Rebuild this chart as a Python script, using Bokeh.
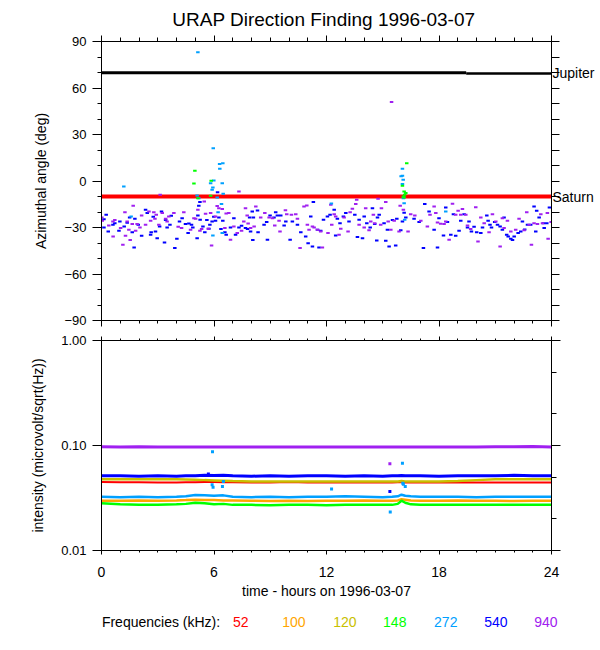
from bokeh.plotting import figure
from bokeh.layouts import column
from bokeh.models import (LinearAxis, LogAxis, SingleIntervalTicker, FixedTicker,
                          Range1d, CustomJSTickFormatter, Grid)
from bokeh.core.properties import value
from bokeh.embed import file_html
from bokeh.resources import INLINE

# ---------------- data ----------------
TITLE = "URAP Direction Finding  1996-03-07"
LEGEND_TITLE = "Frequencies (kHz):"
FREQ_LABELS = ["52", "100", "120", "148", "272", "540", "940"]
FREQ_COLORS = ["#FF0000", "#FFA500", "#C8C000", "#00FF00", "#00A0FF", "#0000FF", "#A020F0"]

# planet directions (deg)
jupiter_hours_a = [0.0, 19.45]
jupiter_angle_a = [69.9, 69.9]
jupiter_hours_b = [19.45, 24.0]
jupiter_angle_b = [69.4, 69.4]
saturn_hours = [0.0, 24.0]
saturn_angle = [-10.0, -10.0]
planet_angles = [69.9, -10.0]
planet_names = ["Jupiter", "Saturn"]

# azimuthal angle points, 540 kHz
hours_540 = [0.13, 0.25, 0.13, 0.36, 0.61, 0.71, 0.93, 0.98, 1.21, 1.37, 1.50, 1.64, 1.78, 1.74, 1.96,
             2.14, 2.35, 2.44, 2.62, 2.65, 2.76, 2.88, 2.97, 3.10, 3.20, 3.36, 3.42, 3.50, 3.65, 3.72,
             3.91, 4.02, 4.16, 4.30, 4.48, 4.62, 4.66, 4.80, 4.87, 5.10, 5.14, 5.19, 5.25, 5.26, 5.41,
             5.51, 5.62, 5.73, 5.78, 5.90, 5.99, 6.08, 6.19, 6.26, 6.37, 6.47, 6.58, 6.65, 6.88, 7.06,
             7.15, 7.33, 7.47, 7.68, 7.79, 7.90, 8.04, 8.07, 7.95,
             8.32, 8.10, 8.35, 8.67, 8.81, 8.85, 8.99, 9.20, 9.29, 9.38, 9.56, 9.74, 9.83, 10.06, 10.18,
             10.45, 10.63, 10.89, 11.02, 11.16, 11.25, 11.30, 11.52, 11.60, 11.69, 11.84, 12.05, 12.19,
             12.41, 12.49, 12.58, 12.72, 12.90, 13.03, 13.20, 13.51, 13.65, 13.74, 13.92, 14.01, 14.15,
             14.33, 14.45, 14.57, 14.68, 14.72, 14.81, 15.07, 15.16, 15.25, 15.34, 15.52, 15.69, 15.75,
             15.96, 16.05, 16.14,
             16.23, 16.67, 16.94, 17.24, 17.17, 17.47, 17.74, 17.92, 18.00, 18.24, 18.36, 18.45, 18.63,
             18.77, 18.89, 19.07, 19.16, 19.34, 19.52, 19.60, 19.73, 19.87, 20.01, 20.23, 20.32, 20.55,
             20.62, 20.72, 20.80, 20.97, 21.12, 21.26, 21.38, 21.47, 21.61, 21.69, 21.83, 21.92, 22.01,
             22.22, 22.36, 22.45, 22.57, 22.72, 22.89, 23.07, 23.16, 23.21, 23.34, 23.57, 23.61, 23.75,
             23.89]
angle_540 = [-24.6, -21.8, -30.0, -32.6, -28.3, -27.2, -32.1, -26.1, -29.3, -27.0, -23.5, -33.0, -24.4, -42.9,
             -28.3, -35.3, -18.6, -20.7, -34.7, -33.0, -23.1, -32.6, -36.9, -29.3, -19.7, -39.6, -25.2, -30.0,
             -28.3, -22.4, -43.3, -37.3, -26.1, -24.0, -27.8, -33.6, -27.4, -28.3, -30.0, -36.9, -22.2, -16.0,
             -13.6, -25.0, -29.3, -33.0, -25.2, -30.8, -28.3, -26.1, -23.1, -25.7, -7.2, -23.5, -31.0, -25.7,
             -33.0, -34.7, -30.0, -24.0, -34.7, -30.0, -28.9, -30.4, -31.0, -23.5, -19.7, -38.1, -32.6,
             -19.0, -23.5, -33.0, -28.3, -26.5, -37.9, -22.2, -23.5, -20.1, -22.2, -22.2, -28.7, -26.1, -37.9,
             -26.1, -28.3, -33.0, -35.8, -40.1, -22.9, -42.2, -13.6, -31.5, -42.9, -32.1, -25.0, -22.9, -21.8,
             -18.6, -35.1, -24.4, -27.2, -22.9, -20.7, -26.1, -21.8, -36.2, -25.0, -36.9, -22.9, -27.2, -30.0,
             -17.5, -27.8, -38.4, -23.5, -21.8, -27.2, -38.6, -31.5, -42.2, -25.2, -41.6, -24.4, -31.7, -26.1,
             -20.5,
             -23.5, -24.4, -26.5, -14.9, -43.3, -19.7, -31.5, -42.9, -24.0, -35.1, -17.1, -26.5, -34.7, -21.4,
             -35.3, -32.1, -25.7, -21.4, -30.0, -26.1, -32.6, -29.5, -33.0, -33.6, -30.0, -22.2, -25.7, -28.3,
             -30.0, -26.5, -28.3, -29.3, -31.5, -23.5, -34.7, -35.8, -37.3, -38.1, -35.8, -33.6, -32.6, -26.1,
             -31.3, -28.3, -28.3, -16.4, -32.6, -19.2, -23.5, -27.2, -30.4, -27.2, -17.1]

# azimuthal angle points, 940 kHz
hours_940 = [0.04, 0.02, 0.39, 0.61, 0.62, 0.71, 1.02, 1.14, 1.25, 1.28, 1.37, 1.46, 1.53, 1.64, 1.69, 1.82,
             1.90, 2.05, 2.14, 2.35, 2.53, 2.62, 2.79, 2.85, 2.92, 3.06, 3.13, 3.24, 3.42, 3.50, 3.59, 3.86,
             4.09, 4.27, 4.39, 4.75, 4.93, 5.02, 5.14, 5.25, 5.34, 5.48, 5.55, 5.69, 5.82, 5.87, 6.08, 6.17,
             6.26, 6.44, 6.58, 6.65, 6.79, 6.88, 7.06, 7.24, 7.33, 7.47, 7.59, 7.68, 7.77, 7.82, 7.95,
             8.23, 8.14, 8.49, 8.71, 8.94, 9.12, 9.24, 9.47, 9.52, 9.81, 9.88, 10.13, 10.36, 10.45, 10.59,
             10.80, 10.95, 10.98, 11.07, 11.25, 11.34, 11.52, 11.69, 11.78, 12.08, 12.23, 12.28, 12.41,
             12.49, 12.67, 12.76, 12.94, 13.15, 13.26, 13.38, 13.56, 13.61, 13.74, 14.01, 14.09, 14.27,
             14.36, 14.50, 14.57, 14.75, 14.89, 14.93, 15.16, 15.29, 15.43, 15.61, 15.87, 15.93, 15.47,
             16.10, 16.35, 16.49, 16.71, 17.03, 17.38, 17.52, 17.74, 17.83, 17.92, 18.09, 18.27, 18.36,
             18.54, 18.72, 18.89, 19.02, 19.16, 19.25, 19.43, 19.52, 19.69, 19.96, 20.08, 20.23, 20.41,
             20.67, 20.85, 21.03, 21.26, 21.38, 21.47, 21.65, 21.83, 22.09, 22.27, 22.54, 22.68, 22.81,
             22.93, 23.07, 23.25, 23.43, 23.52, 23.78, 23.82, 23.98]
angle_940 = [-25.7, -23.5, -28.7, -26.1, -35.8, -25.2, -30.4, -41.2, -20.1, -35.3, -26.1, -31.5, -38.1, -27.8,
             -16.0, -32.1, -27.8, -30.0, -22.2, -28.3, -19.7, -25.7, -20.1, -24.4, -21.8, -28.3, -8.9, -20.7,
             -24.4, -26.1, -22.9, -20.7, -29.5, -30.4, -20.1, -31.5, -24.0, -24.4, -18.6, -32.1, -31.0, -13.2,
             -21.2, -30.8, -20.7, -41.6, -22.9, -16.2, -17.5, -18.1, -30.4, -21.0, -20.7, -37.9, -29.3, -33.6,
             -6.8, -32.1, -26.1, -17.5, -22.2, -27.4, -30.4,
             -16.4, -29.3, -23.5, -20.7, -23.5, -24.0, -28.7, -25.7, -32.6, -18.8, -21.4, -21.8, -21.4, -24.4,
             -43.3, -16.4, -15.8, -28.3, -31.5, -29.3, -30.0, -31.5, -32.6, -42.9, -33.6, -15.4, -28.3, -21.4,
             -22.9, -34.7, -30.8, -23.5, -32.6, -20.1, -17.9, -14.9, -12.1, -28.3, -30.0, -17.5, -31.7, -26.1,
             -21.8, -27.2, -11.5, -28.3, -17.5, -13.6, -26.1, -31.5, -25.7, -32.6, -16.0, 51.0,
             -18.6, -32.6, -21.4, -22.2, -25.7, -29.3, -21.8, -16.4, -20.7, -26.7, -27.6, -27.8, -26.1, -37.9,
             -14.7, -21.8, -19.2, -21.8, -18.1, -21.8, -28.7, -31.0, -16.9, -39.0, -23.5, -27.2, -33.0, -21.4,
             -26.1, -42.2, -24.0, -30.4, -25.7, -32.6, -31.5, -24.4, -31.7, -20.1, -28.3, -41.2, -27.2, -27.8,
             -21.4, -27.2, -20.7, -37.3, -26.5]

# azimuthal angle points, 272 kHz
hours_272 = [1.19, 1.58, 5.14, 5.96, 6.30, 6.47, 6.31, 5.99, 5.82, 5.94, 6.44, 5.90, 6.49, 6.17, 6.40, 6.22,
             5.94, 5.10, 5.19, 6.44, 12.26, 15.98, 16.05, 16.05, 16.09, 16.05, 16.10, 16.14, 16.17, 18.36]
angle_272 = [-3.5, -22.9, 83.0, 21.2, 10.9, 11.5, 7.9, 0.3, -1.4, -4.2, -1.4, -5.7, -8.3, -10.6, -14.9, -20.1,
             -35.1, -9.3, -11.1, -33.6, -14.5, 3.0, 7.9, 3.4, 0.8, -2.0, -11.1, -14.3, -25.0, -19.7]

# azimuthal angle points, 148 kHz
hours_148 = [4.98, 4.93, 5.85, 5.82, 5.14, 16.05, 16.14, 16.17, 16.14, 16.28, 16.23, 16.10]
angle_148 = [6.6, -1.6, 0.1, -9.5, -11.1, -3.1, -6.8, -8.9, -10.6, 11.5, -7.8, -10.0]

# intensity time series (microvolt/sqrt(Hz))
time_hours = [0, 1, 2, 3, 4, 4.5, 5, 5.5, 6, 6.5, 7, 8, 9, 10, 11, 12, 13, 14, 15, 15.5, 15.8, 16.0,
              16.2, 16.5, 17, 18, 19, 20, 21, 22, 23, 24]
intensity_52 = [0.0448, 0.0446, 0.0446, 0.0445, 0.0445, 0.0446, 0.0446, 0.0448, 0.0450, 0.0447, 0.0446,
                0.0445, 0.0445, 0.0448, 0.0445, 0.0446, 0.0445, 0.0447, 0.0445, 0.0445, 0.0446, 0.0446,
                0.0445, 0.0445, 0.0444, 0.0445, 0.0446, 0.0444, 0.0445, 0.0444, 0.0444, 0.0445]
intensity_100 = [0.0298, 0.0298, 0.0300, 0.0298, 0.0300, 0.0302, 0.0305, 0.0303, 0.0302, 0.0300, 0.0300,
                 0.0298, 0.0296, 0.0298, 0.0296, 0.0298, 0.0298, 0.0300, 0.0298, 0.0298, 0.0300, 0.0308,
                 0.0305, 0.0300, 0.0298, 0.0298, 0.0300, 0.0298, 0.0298, 0.0296, 0.0298, 0.0298]
intensity_120 = [0.0478, 0.0478, 0.0476, 0.0478, 0.0476, 0.0474, 0.0472, 0.0468, 0.0465, 0.0462, 0.0458,
                 0.0455, 0.0455, 0.0455, 0.0455, 0.0455, 0.0455, 0.0455, 0.0455, 0.0455, 0.0455, 0.0458,
                 0.0455, 0.0455, 0.0455, 0.0455, 0.0458, 0.0468, 0.0476, 0.0478, 0.0478, 0.0478]
intensity_148 = [0.0282, 0.0275, 0.0272, 0.0272, 0.0275, 0.0278, 0.0285, 0.0282, 0.0276, 0.0278, 0.0272,
                 0.0272, 0.0270, 0.0272, 0.0272, 0.0270, 0.0272, 0.0272, 0.0272, 0.0272, 0.0278, 0.0298,
                 0.0285, 0.0275, 0.0272, 0.0272, 0.0272, 0.0272, 0.0272, 0.0272, 0.0272, 0.0272]
intensity_272 = [0.0325, 0.0322, 0.0325, 0.0322, 0.0325, 0.0328, 0.0338, 0.0335, 0.0332, 0.0335, 0.0325,
                 0.0322, 0.0325, 0.0322, 0.0325, 0.0325, 0.0328, 0.0325, 0.0322, 0.0325, 0.0328, 0.0340,
                 0.0332, 0.0328, 0.0325, 0.0325, 0.0325, 0.0322, 0.0325, 0.0325, 0.0325, 0.0325]
intensity_540 = [0.0515, 0.0515, 0.0510, 0.0515, 0.0510, 0.0515, 0.0515, 0.0520, 0.0518, 0.0522, 0.0515,
                 0.0510, 0.0515, 0.0510, 0.0515, 0.0515, 0.0510, 0.0515, 0.0510, 0.0515, 0.0515, 0.0518,
                 0.0515, 0.0515, 0.0515, 0.0510, 0.0515, 0.0515, 0.0515, 0.0520, 0.0515, 0.0515]
intensity_940 = [0.0975, 0.0970, 0.0975, 0.0970, 0.0970, 0.0970, 0.0970, 0.0970, 0.0968, 0.0970, 0.0968,
                 0.0970, 0.0970, 0.0970, 0.0970, 0.0970, 0.0970, 0.0970, 0.0970, 0.0970, 0.0970, 0.0970,
                 0.0970, 0.0970, 0.0970, 0.0970, 0.0970, 0.0970, 0.0975, 0.0975, 0.0980, 0.0970]

# isolated intensity samples
spike_hours_272 = [5.92, 5.90, 5.95, 6.45, 6.50, 12.27, 15.40, 16.05, 16.07, 16.20, 16.10]
spike_int_272 = [0.0870, 0.0422, 0.0400, 0.0407, 0.0454, 0.0386, 0.0233, 0.0679, 0.0437, 0.0408, 0.0427]
spike_hours_940 = [15.38]
spike_int_940 = [0.0669]
spike_hours_540 = [15.38, 5.70]
spike_int_540 = [0.0365, 0.0535]

# ---------------- styling helpers ----------------
FONT = "Liberation Sans"
BLANK = CustomJSTickFormatter(code="return ''")
LEFT, FRAME_W, RIGHT = 101, 450, 49


def style_axis(ax, major_out, minor_out, labels=True, size="13px"):
    ax.axis_line_color = "black"
    ax.major_tick_line_color = "black"
    ax.minor_tick_line_color = "black"
    ax.major_tick_in = 0
    ax.minor_tick_in = 0
    ax.major_tick_out = major_out
    ax.minor_tick_out = minor_out
    ax.major_label_text_font = FONT
    ax.major_label_text_color = "black"
    ax.axis_label_text_font = FONT
    ax.axis_label_text_font_style = "normal"
    ax.axis_label_text_font_size = "14px"
    ax.axis_label_text_color = "black"
    if labels:
        ax.major_label_text_font_size = size
    else:
        ax.formatter = BLANK
        ax.major_label_text_font_size = "0px"
        ax.major_label_standoff = 0
    return ax


def hour_ticker():
    return SingleIntervalTicker(interval=6, num_minor_ticks=6)


def no_grid(p):
    for g in p.select(type=Grid):
        g.visible = False


# ---------------- top panel: azimuthal angle ----------------
top = figure(frame_width=FRAME_W, frame_height=279, output_backend="svg", toolbar_location=None,
             x_range=Range1d(0, 24), y_range=Range1d(-90, 90),
             x_axis_location=None, y_axis_location=None,
             min_border_left=LEFT, min_border_right=RIGHT, min_border_top=40, min_border_bottom=10,
             title=TITLE, background_fill_color="white", border_fill_color="white")
no_grid(top)
top.title.align = "center"
top.title.text_font = FONT
top.title.text_font_size = "19px"
top.title.text_font_style = "normal"
top.title.text_color = "black"
top.title.text_line_height = 0.8
top.title.standoff = 12
top.title.offset = 0
top.outline_line_color = "black"

ax = style_axis(LinearAxis(ticker=SingleIntervalTicker(interval=30, num_minor_ticks=3),
                           axis_label="Azimuthal angle (deg)"), 9, 4)
ax.major_label_standoff = 6
ax.axis_label_standoff = 12
top.add_layout(ax, "left")

# right axis: minor ticks every 10 deg, planet names as labels
rax = style_axis(LinearAxis(ticker=FixedTicker(ticks=planet_angles,
                                               minor_ticks=list(range(-90, 91, 10)))), 0, 8,
                 size="14px")
rax.major_label_overrides = {a: n for a, n in zip(planet_angles, planet_names)}
rax.major_label_standoff = -7
top.add_layout(rax, "right")
top.add_layout(style_axis(LinearAxis(ticker=hour_ticker()), 6, 4, labels=False), "above")
top.add_layout(style_axis(LinearAxis(ticker=hour_ticker()), 6, 3, labels=False), "below")

top.line(saturn_hours, saturn_angle, line_color="#FF0000", line_width=4)
top.line(jupiter_hours_a, jupiter_angle_a, line_color="black", line_width=3)
top.line(jupiter_hours_b, jupiter_angle_b, line_color="black", line_width=2.5)

for hx, ay, col in [(hours_540, angle_540, FREQ_COLORS[5]), (hours_940, angle_940, FREQ_COLORS[6]),
                    (hours_272, angle_272, FREQ_COLORS[4]), (hours_148, angle_148, FREQ_COLORS[3])]:
    top.rect(hx, ay, width=3.5, height=2, width_units="screen", height_units="screen",
             fill_color=col, line_color=None)

# ---------------- bottom panel: intensity ----------------
bot = figure(frame_width=FRAME_W, frame_height=210, output_backend="svg", toolbar_location=None,
             x_range=Range1d(0, 24), y_range=Range1d(0.01, 1.0), y_axis_type="log",
             x_axis_location=None, y_axis_location=None,
             min_border_left=LEFT, min_border_right=RIGHT, min_border_top=10, min_border_bottom=56,
             background_fill_color="white", border_fill_color="white")
no_grid(bot)
bot.outline_line_color = "black"

lax = style_axis(LogAxis(ticker=FixedTicker(ticks=[0.01, 0.1, 1.0], minor_ticks=[]),
                         axis_label="intensity (microvolt/sqrt(Hz))"), 9, 0)
lax.major_label_overrides = {0.01: "0.01", 0.1: "0.10", 1: "1.00"}
lax.major_label_standoff = 6
lax.axis_label_standoff = 12
bot.add_layout(lax, "left")
bot.add_layout(style_axis(LogAxis(ticker=FixedTicker(ticks=[0.01, 0.1, 1.0],
                                                     minor_ticks=[0.02, 0.05, 0.2, 0.5])), 9, 5,
                          labels=False), "right")
bot.add_layout(style_axis(LinearAxis(ticker=hour_ticker()), 4, 2, labels=False), "above")
bax = style_axis(LinearAxis(ticker=hour_ticker(), axis_label="time - hours on 1996-03-07"), 4, 2,
                 size="14px")
bax.major_label_standoff = 12
bax.axis_label_standoff = 3
bot.add_layout(bax, "below")

series = [intensity_52, intensity_100, intensity_120, intensity_148, intensity_272, intensity_540,
          intensity_940]
widths = [2, 2.5, 2.5, 2.5, 2.5, 3, 3]
for vals, col, w in zip(series, FREQ_COLORS, widths):
    bot.line(time_hours, vals, line_color=col, line_width=w)

for hx, iy, col in [(spike_hours_272, spike_int_272, FREQ_COLORS[4]),
                    (spike_hours_940, spike_int_940, FREQ_COLORS[6]),
                    (spike_hours_540, spike_int_540, FREQ_COLORS[5])]:
    bot.rect(hx, iy, width=3, height=3, width_units="screen", height_units="screen",
             fill_color=col, line_color=None)

# ---------------- frequency legend row (frame aligned with the panels, in hours) ----------------
HOUR_PX = FRAME_W / 24.0
LEG_W = 600 - LEFT
leg = figure(frame_width=LEG_W, frame_height=36, output_backend="svg", toolbar_location=None,
             x_range=Range1d(0, LEG_W / HOUR_PX), y_range=Range1d(0, 1),
             x_axis_location=None, y_axis_location=None,
             min_border_left=LEFT, min_border_right=0, min_border_top=0, min_border_bottom=0,
             background_fill_color="white", border_fill_color="white")
no_grid(leg)
leg.outline_line_color = None
legend_y = 0.58
leg.text(x=[0.02], y=[legend_y], text=[LEGEND_TITLE], text_font=value(FONT), text_font_size="14px",
         text_baseline="middle", text_align="left", text_color="black")
legend_x = [7.43, 10.26, 12.98, 15.64, 18.36, 21.03, 23.70]
leg.text(x=legend_x, y=[legend_y] * len(legend_x), text=FREQ_LABELS, text_font=value(FONT),
         text_font_size="14px", text_baseline="middle", text_align="center", text_color=FREQ_COLORS)

layout = column(top, bot, leg, spacing=0)
open("out.html", "w").write(file_html(layout, INLINE))
